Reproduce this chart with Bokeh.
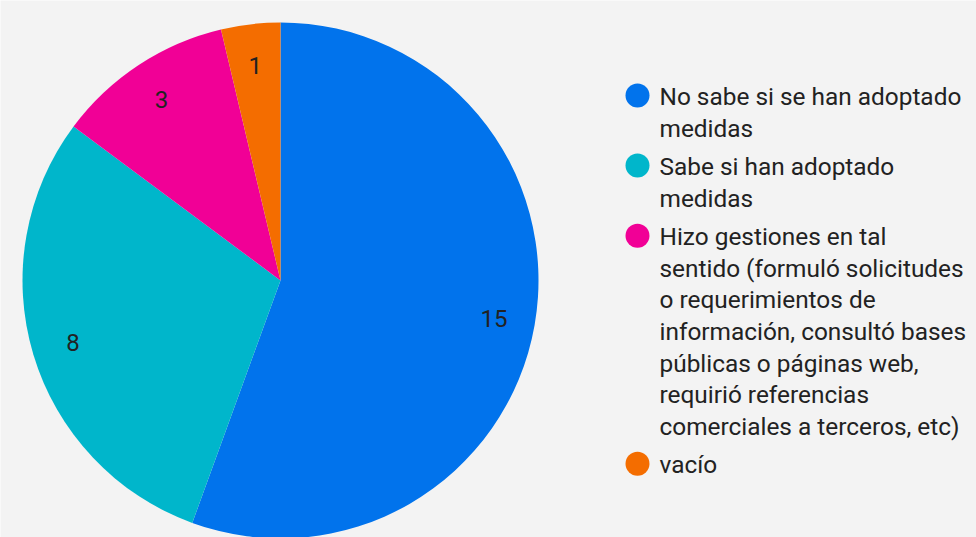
import math
from bokeh.plotting import figure
from bokeh.models import Range1d, ColumnDataSource
from bokeh.core.properties import value
from bokeh.embed import file_html
from bokeh.resources import INLINE

# ---- data ----
categories = [
    "No sabe si se han adoptado\nmedidas",
    "Sabe si han adoptado\nmedidas",
    "Hizo gestiones en tal\nsentido (formuló solicitudes\no requerimientos de\ninformación, consultó bases\npúblicas o páginas web,\nrequirió referencias\ncomerciales a terceros, etc)",
    "vacío",
]
counts = [15, 8, 3, 1]
colors = ["#0173ec", "#00b6cb", "#f10096", "#f46d00"]

W, H = 976, 537
BG = "#f3f3f3"
FONT = "Roboto"

p = figure(width=W, height=H, output_backend="svg", toolbar_location=None,
           x_range=Range1d(0, W), y_range=Range1d(0, H), min_border=0,
           background_fill_color=BG, border_fill_color=BG)
p.axis.visible = False
p.grid.visible = False
p.outline_line_color = None

def sx(x):  # screen x -> data x
    return x

def sy(y):  # screen y -> data y
    return H - y

cx, cy, R = sx(280), sy(280), 258
total = sum(counts)
starts, ends, lx, ly, labels = [], [], [], [], []
acc = 0
for c in counts:
    a0 = math.pi / 2 - 2 * math.pi * acc / total
    acc += c
    a1 = math.pi / 2 - 2 * math.pi * acc / total
    starts.append(a0)
    ends.append(a1)
    mid = (a0 + a1) / 2
    lx.append(cx + 0.84 * R * math.cos(mid))
    ly.append(cy + 0.84 * R * math.sin(mid))
    labels.append(str(c))

src = ColumnDataSource(dict(start=starts, end=ends, color=colors))
p.wedge(x=cx, y=cy, radius=R, radius_units="screen", start_angle="start",
        end_angle="end", direction="clock", fill_color="color",
        line_color=None, source=src)

p.text(x=lx, y=ly, text=labels, text_font=value(FONT), text_font_size="24px",
       text_color="#222222", text_align="center", text_baseline="middle")

# legend
line_h = 31.6
gap = 38.5
y = 96
mx, tx = sx(637), sx(659)
m_x, m_y, m_c, t_x, t_y, t_t = [], [], [], [], [], []
for cat, col in zip(categories, colors):
    lines = cat.split("\n")
    m_x.append(mx); m_y.append(sy(y - 1)); m_c.append(col)
    for i, ln in enumerate(lines):
        t_x.append(tx); t_y.append(sy(y + i * line_h)); t_t.append(ln)
    y += (len(lines) - 1) * line_h + gap

p.scatter(x=m_x, y=m_y, size=24, fill_color=m_c, line_color=None)
p.text(x=t_x, y=t_y, text=t_t, text_font=value(FONT), text_font_size="24.4px",
       text_color="#222222", text_align="left", text_baseline="middle")

html = file_html(p, INLINE)
html = html.replace("<body>", '<body style="background:%s">' % BG, 1)
open("out.html", "w").write(html)
